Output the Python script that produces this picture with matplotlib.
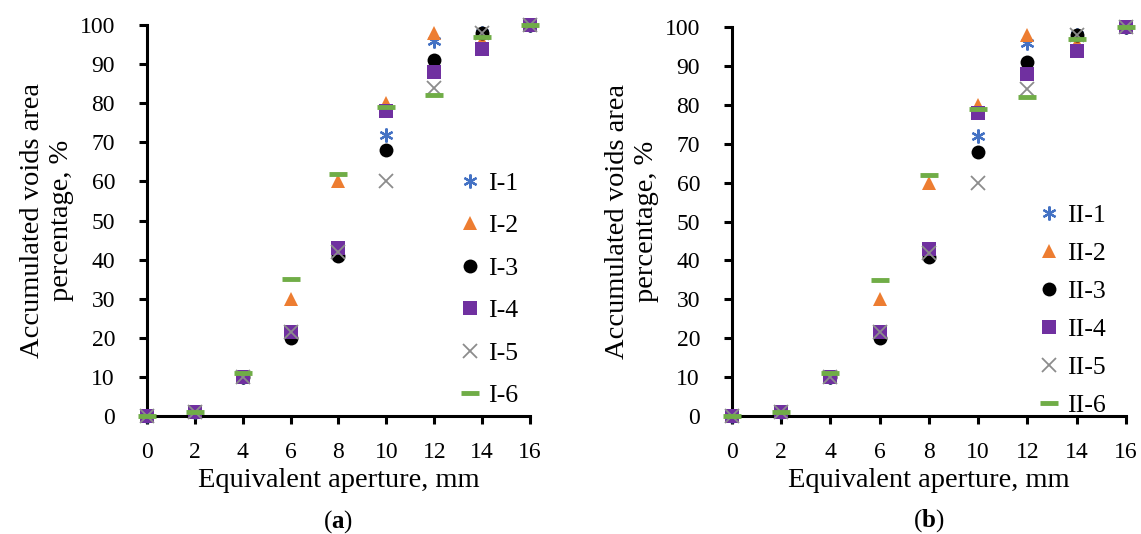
import numpy as np
import matplotlib.pyplot as plt

plt.rcParams['font.family'] = ['Liberation Serif', 'DejaVu Serif']
plt.rcParams['mathtext.fontset'] = 'custom'
plt.rcParams['mathtext.rm'] = 'Liberation Serif'
plt.rcParams['mathtext.bf'] = 'Liberation Serif:bold'

# 数据
aperture = [0, 2, 4, 6, 8, 10, 12, 14, 16]
s1 = [0, 1, 10, 21, 42, 72, 96, 98, 100]
s2 = [0, 1, 10, 30, 60, 80, 98, 96, 100]
s3 = [0, 1, 10, 20, 41, 68, 91, 98, 100]
s4 = [0, 1, 10, 21.5, 43, 78, 88, 94, 100]
s5 = [0, 1, 10, 21.5, 42, 60, 84, 98, 100]
s6 = [0, 1, 11, 35, 62, 79, 82, 97, 100]
series = [s1, s2, s3, s4, s5, s6]

styles = [
    dict(marker=(6, 2, 0), color='#4472C4', ms=10, mew=1.6),
    dict(marker='^', color='#ED7D31', ms=10, mew=0),
    dict(marker='o', color='black', ms=10, mew=0),
    dict(marker='s', color='#7030A0', ms=10, mew=0),
    dict(marker='x', color='#8C8C8C', ms=10, mew=1.3),
    dict(marker='_', color='#70AD47', ms=13, mew=3.5),
]

fig = plt.figure(figsize=(11.41, 5.34), dpi=100)
panels = [
    ([0.1288, 0.221, 0.3357, 0.732], 'I', 'a', (0.79, 0.324), 0.76),
    ([0.6415, 0.221, 0.3453, 0.728], 'II', 'b', (0.752, 0.271), 0.58),
]

for rect, pre, tag, anchor, spacing in panels:
    ax = fig.add_axes(rect)
    for i, (vals, st) in enumerate(zip(series, styles)):
        ax.plot(aperture, vals, linestyle='none', clip_on=False,
                label=f'{pre}-{i+1}', zorder=3 + i, **st)
    ax.set_xlim(0, 16)
    ax.set_ylim(0, 100)
    ax.set_xticks(np.arange(0, 17, 2))
    ax.set_yticks(np.arange(0, 101, 10))
    for s in ['top', 'right']:
        ax.spines[s].set_visible(False)
    for s in ['left', 'bottom']:
        ax.spines[s].set_linewidth(2.2)
    ax.tick_params(direction='out', length=6, width=2.2, labelsize=17)
    ax.tick_params(axis='x', pad=13)
    ax.tick_params(axis='y', pad=17)
    ax.set_xlabel('Equivalent aperture, mm', fontsize=20.5, labelpad=3)
    ax.set_ylabel('Accumulated voids area\npercentage, %', fontsize=20.5,
                  labelpad=4, linespacing=1.2)
    ax.legend(loc='center left', bbox_to_anchor=anchor, frameon=False,
              fontsize=18.5, handlelength=0.8, handletextpad=0.3,
              labelspacing=spacing, borderaxespad=0)
    ax.text(0.5, -0.27, '($\\mathbf{' + tag + '}$)', transform=ax.transAxes,
            ha='center', va='center', fontsize=18)

plt.savefig('out.png', dpi=100)
